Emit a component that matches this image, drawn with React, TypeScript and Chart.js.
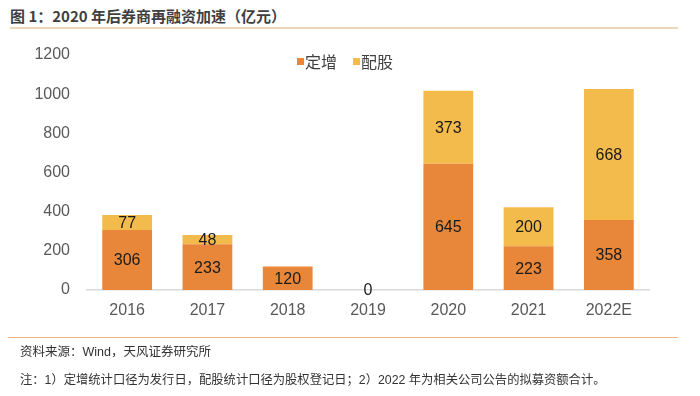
import React, { useEffect, useRef } from "react";
import { Chart, registerables } from "chart.js";

Chart.register(...registerables);

const categories = ["2016", "2017", "2018", "2019", "2020", "2021", "2022E"];
const dingzeng: (number | null)[] = [306, 233, 120, 0, 645, 223, 358];
const peigu: (number | null)[] = [77, 48, null, null, 373, 200, 668];
const yTicks = [0, 200, 400, 600, 800, 1000, 1200];

const ORANGE = "#E8873A";
const YELLOW = "#F2BB4C";
const FONT = "'Liberation Sans', Arial, 'Noto Sans CJK SC', sans-serif";

const labelPlugin = {
  id: "barLabels",
  afterDatasetsDraw(chart: any) {
    const ctx = chart.ctx;
    ctx.save();
    ctx.font = `16px ${FONT}`;
    ctx.fillStyle = "#1a1a1a";
    ctx.textAlign = "center";
    ctx.textBaseline = "middle";
    chart.data.datasets.forEach((ds: any, di: number) => {
      const meta = chart.getDatasetMeta(di);
      meta.data.forEach((el: any, i: number) => {
        const v = ds.data[i];
        if (v === null || v === undefined) return;
        const p = el.getCenterPoint();
        ctx.fillText(String(v), p.x, p.y + 1);
      });
    });
    ctx.restore();
  },
};

export default function App() {
  const ref = useRef<HTMLCanvasElement>(null);
  useEffect(() => {
    if (!ref.current) return;
    const chart = new Chart(ref.current, {
      type: "bar",
      data: {
        labels: categories,
        datasets: [
          { label: "定增", data: dingzeng, backgroundColor: ORANGE, borderWidth: 0 },
          { label: "配股", data: peigu, backgroundColor: YELLOW, borderWidth: 0 },
        ],
      },
      options: {
        responsive: false,
        animation: false,
        layout: { padding: { top: 55, right: 51, bottom: 66, left: 0 } },
        plugins: { legend: { display: false }, tooltip: { enabled: false } },
        datasets: { bar: { barPercentage: 0.62, categoryPercentage: 1 } },
        scales: {
          x: {
            stacked: true,
            grid: { display: false, drawTicks: false },
            border: { display: true, color: "#D9D9D9", width: 1.5 },
            ticks: { color: "#595959", font: { family: FONT, size: 16 }, padding: 11 },
            afterFit: (s: any) => { s.height = 40; },
          },
          y: {
            stacked: true,
            min: 0,
            max: 1200,
            afterBuildTicks: (s: any) => { s.ticks = yTicks.map((v) => ({ value: v })); },
            grid: { display: false, drawTicks: false },
            border: { display: false },
            ticks: {
              color: "#595959",
              font: { family: FONT, size: 16 },
              padding: 17,
              callback: (v: any) => String(v),
            },
            afterFit: (s: any) => { s.width = 87; },
          },
        },
      },
      plugins: [labelPlugin],
    });
    return () => chart.destroy();
  }, []);

  const text: React.CSSProperties = { position: "absolute", whiteSpace: "nowrap", fontFamily: FONT };
  return (
    <div style={{ position: "fixed", left: 0, top: 0, width: 700, height: 396, background: "#fff", overflow: "hidden" }}>
      <div style={{ ...text, left: 10, top: 5, fontSize: 15, fontWeight: "bold", color: "#3f3f3f", fontFamily: "'Noto Sans CJK SC', 'Liberation Sans', sans-serif" }}>
        图 1：2020 年后券商再融资加速（亿元）
      </div>
      <div style={{ position: "absolute", left: 10, top: 27, width: 668, height: 2, background: "#EAD6BA" }} />
      <canvas ref={ref} width={700} height={396} style={{ position: "absolute", left: 0, top: 0, width: 700, height: 396 }} />
      <div style={{ position: "absolute", left: 297, top: 58, width: 7, height: 7, background: ORANGE }} />
      <div style={{ ...text, left: 305, top: 51, fontSize: 16, color: "#404040", fontFamily: "'Noto Sans CJK SC', sans-serif", lineHeight: "20px" }}>定增</div>
      <div style={{ position: "absolute", left: 353, top: 58, width: 7, height: 7, background: YELLOW }} />
      <div style={{ ...text, left: 361, top: 51, fontSize: 16, color: "#404040", fontFamily: "'Noto Sans CJK SC', sans-serif", lineHeight: "20px" }}>配股</div>
      <div style={{ position: "absolute", left: 8, top: 337, width: 670, height: 1, background: "#F0B388" }} />
      <div style={{ ...text, left: 20, top: 343, fontSize: 12.5, color: "#333", lineHeight: "18px" }}>
        资料来源：Wind，天风证券研究所
      </div>
      <div style={{ ...text, left: 20, top: 371, fontSize: 12.3, color: "#333", lineHeight: "18px" }}>
        注：1）定增统计口径为发行日，配股统计口径为股权登记日；2）2022 年为相关公司公告的拟募资额合计。
      </div>
    </div>
  );
}
